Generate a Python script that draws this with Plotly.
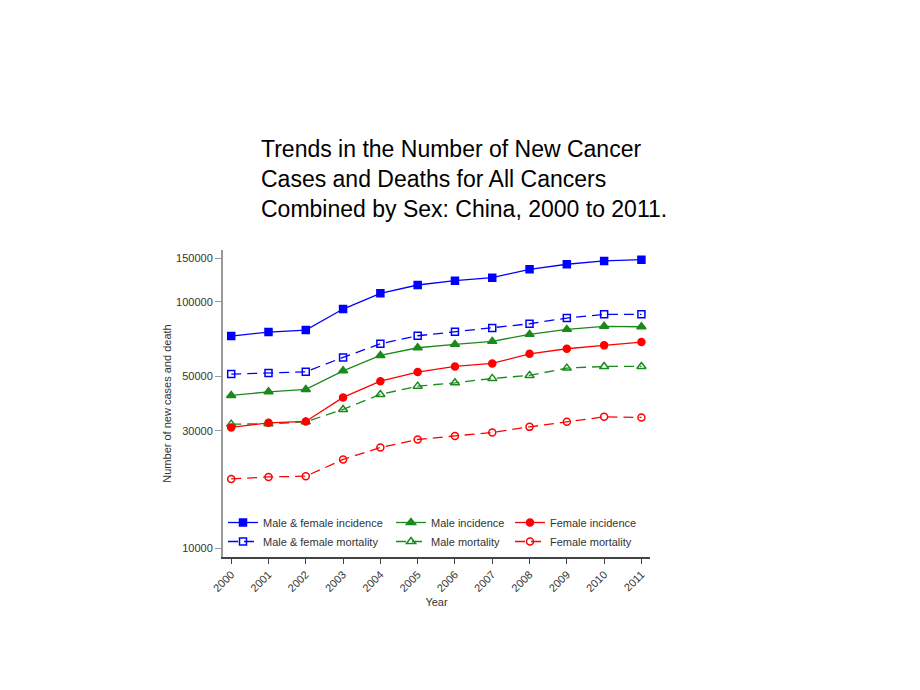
import plotly.graph_objects as go

years = list(range(2000, 2012))

mf_incidence = [72650, 75430, 76850, 93500, 108300, 117000, 121800, 125300, 135400, 142000, 146400, 148200]
mf_mortality = [50950, 51430, 52050, 59550, 67610, 72860, 75630, 78300, 81500, 85960, 88990, 88990]
male_incidence = [41750, 43180, 44160, 52540, 60670, 65140, 67240, 69150, 73820, 77340, 79560, 79260]
male_mortality = [31940, 32030, 32630, 36640, 42140, 45530, 46960, 48940, 50320, 53870, 54730, 54730]
female_incidence = [30970, 32330, 32750, 40980, 47710, 51910, 54730, 56290, 61580, 64540, 66610, 68680]
female_mortality = [19160, 19520, 19650, 22970, 25690, 27680, 28620, 29550, 31140, 32630, 34190, 34000]

y_ticks = [10000, 30000, 50000, 100000, 150000]

BLUE = "#0000ff"
GREEN = "#1a8a1a"
RED = "#ff0000"
DASH = "10px,6px"

series = [
    # name, values, colour, symbol, dashed, legend
    ("Male & female incidence", mf_incidence, BLUE, "square", False, "legend"),
    ("Male & female mortality", mf_mortality, BLUE, "square-open", True, "legend"),
    ("Male incidence", male_incidence, GREEN, "triangle-up", False, "legend2"),
    ("Male mortality", male_mortality, GREEN, "triangle-up-open", True, "legend2"),
    ("Female incidence", female_incidence, RED, "circle", False, "legend3"),
    ("Female mortality", female_mortality, RED, "circle-open", True, "legend3"),
]

fig = go.Figure()
for name, vals, col, sym, dashed, leg in series:
    fig.add_trace(go.Scatter(
        x=years, y=vals, name=name, mode="lines+markers",
        line=dict(color=col, width=1.3, dash=DASH if dashed else "solid"),
        marker=dict(symbol=sym, size=7 if "triangle" not in sym else 8, color=col,
                    line=dict(color=col, width=1.5)),
        legend=leg,
    ))

# page body adds an 8px offset, so margins are set in page pixels minus 8
OFF = 8
W, H = 920, 690
L, T = 223 - OFF, 250 - OFF
pw = 650 - 223
ph = 557 - 250
R = W - L - pw
B = H - T - ph


def px_x(px):
    return (px - OFF - L) / pw


def px_y(py):
    return (T + ph - (py - OFF)) / ph


legend_common = dict(
    orientation="v", xanchor="left", yanchor="top",
    bgcolor="rgba(0,0,0,0)", font=dict(family="Liberation Sans, Arial", size=11, color="#333333"),
    itemwidth=30, tracegroupgap=0,
)

fig.update_layout(
    width=W, height=H,
    margin=dict(l=L, r=R, t=T, b=B),
    paper_bgcolor="white", plot_bgcolor="white",
    font=dict(family="Liberation Sans, Arial", size=11, color="#333333"),
    legend=dict(x=px_x(223), y=px_y(508), **legend_common),
    legend2=dict(x=px_x(391), y=px_y(508), **legend_common),
    legend3=dict(x=px_x(510), y=px_y(508), **legend_common),
    annotations=[dict(
        text="Trends in the Number of New Cancer<br>Cases and Deaths for All Cancers<br>"
             "Combined by Sex: China, 2000 to 2011.",
        xref="paper", yref="paper", x=px_x(259), y=px_y(134),
        xanchor="left", yanchor="top", align="left", showarrow=False,
        font=dict(family="Liberation Sans, Arial", size=23, color="black"),
    )],
)

fig.update_xaxes(
    range=[1999.78, 2011.23], tickmode="array", tickvals=years,
    ticktext=[str(y) for y in years], tickangle=-45,
    showgrid=False, zeroline=False,
    showline=True, linecolor="#444444", linewidth=1.5,
    ticks="outside", ticklen=5, tickcolor="#444444",
    title=dict(text="Year", font=dict(size=11, color="#333333"), standoff=5),
)
fig.update_yaxes(
    type="log", range=[3.966, 5.210], tickmode="array", tickvals=y_ticks,
    ticktext=[str(v) for v in y_ticks],
    showgrid=False, zeroline=False,
    showline=True, linecolor="#999999", linewidth=2,
    ticks="outside", ticklen=6, tickcolor="#999999",
    title=dict(text="Number of new cases and death", font=dict(size=11, color="#333333"), standoff=2),
)

fig.write_html("out.html")
